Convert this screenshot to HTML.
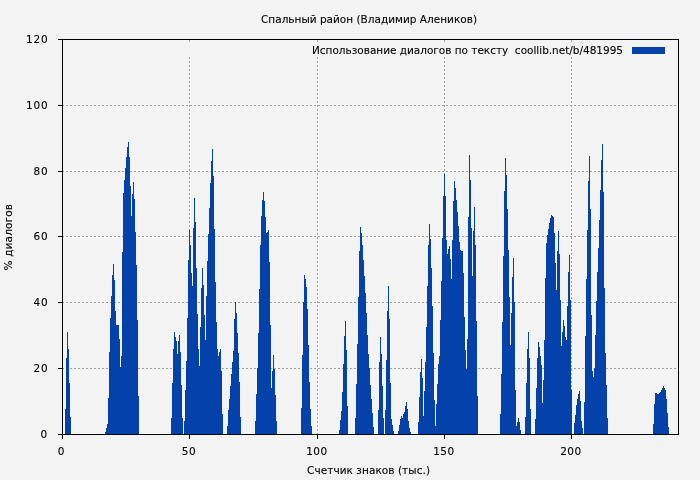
<!DOCTYPE html>
<html><head><meta charset="utf-8">
<style>
html,body{margin:0;padding:0;background:#f3f3f3;}
svg{display:block;will-change:transform;}
text{font-family:"DejaVu Sans","Liberation Sans",sans-serif;font-size:10.5px;fill:#000;stroke:#000;stroke-width:0.1px;}
</style></head>
<body>
<svg width="700" height="480" viewBox="0 0 700 480" shape-rendering="crispEdges">
<rect x="0" y="0" width="700" height="480" fill="#f3f3f3"/>
<!-- grid -->
<g stroke="#a0a0a0" stroke-width="1" stroke-dasharray="2 2">
<path d="M62 105.5H678M62 171.5H678M62 236.5H678M62 302.5H678M62 368.5H678"/>
<path d="M189.5 57V434M317.5 57V434M444.5 57V434M571.5 57V434"/>
<path d="M189.5 40V42M317.5 40V42M444.5 40V42M571.5 40V42" stroke-dasharray="none"/>
</g>
<g id="bars" fill="#0541ab" stroke="none">
<path d="M65 434V409H66V358H67V332H68V349H69V383H70V417H71V434ZM105 434V432H106V428H107V424H108V398H109V352H110V318H111V296H112V275H113V264H114V280H115V311H116V325H117V325H118V325H119V339H120V367H121V356H122V252H123V193H124V180H125V168H126V157H127V147H128V142H129V157H130V186H131V216H132V194H133V182H134V199H135V232H136V265H137V320H138V396H139V434ZM171 434V418H172V383H173V349H174V332H175V337H176V341H177V354H178V341H179V335H180V352H181V385H182V418H183V434ZM184 434V421H185V390H186V361H187V318H188V260H189V230H190V245H191V273H192V286H193V228H194V198H195V222H196V268H197V314H198V349H199V366H200V327H201V288H202V268H203V285H204V315H205V340H206V296H207V261H208V234H209V208H210V183H211V161H212V149H213V176H214V229H215V282H216V322H217V349H218V356H219V352H220V349H221V371H222V414H223V434ZM227 434V426H228V410H229V399H230V386H231V374H232V362H233V351H234V319H235V302H236V313H237V333H238V353H239V382H240V417H241V434ZM255 434V421H256V394H257V368H258V333H259V289H260V245H261V216H262V200H263V192H264V201H265V217H266V233H267V232H268V230H269V262H270V325H271V388H272V371H273V355H274V369H275V395H276V421H277V434ZM301 434V408H302V355H303V302H304V275H305V279H306V287H307V309H308V345H309V382H310V409H311V426H312V434ZM339 434V430H340V420H341V411H342V392H343V364H344V336H345V321H346V350H347V406H348V434ZM355 434V418H356V384H357V344H358V297H359V251H360V227H361V233H362V245H363V260H364V276H365V293H366V313H367V335H368V354H369V368H370V385H371V399H372V413H373V427H374V434ZM378 434V410H379V362H380V337H381V354H382V386H383V418H384V434ZM385 434V410H386V360H387V311H388V286H389V319H390V383H391V419H392V425H393V431H394V434ZM398 434V431H399V425H400V419H401V416H402V418H403V414H404V412H405V406H406V402H407V409H408V421H409V428H410V432H411V434ZM418 434V422H419V397H420V372H421V359H422V378H423V416H424V391H425V362H426V327H427V286H428V245H429V224H430V239H431V268H432V306H433V353H434V400H435V426H436V404H437V384H438V364H439V356H440V320H441V281H442V238H443V196H444V174H445V196H446V240H447V254H448V249H449V246H450V259H451V279H452V240H453V201H454V181H455V188H456V200H457V212H458V226H459V242H460V250H461V251H462V251H463V273H464V317H465V350H466V369H467V339H468V217H469V155H470V180H471V228H472V276H473V231H474V207H475V245H476V321H477V396H478V434ZM500 434V414H501V374H502V322H503V256H504V191H505V158H506V175H507V209H508V250H509V297H510V345H511V313H512V277H513V258H514V302H515V390H516V426H517V422H518V418H519V422H520V430H521V434ZM525 434V417H526V383H527V349H528V332H529V358H530V409H531V434ZM535 434V419H536V388H537V358H538V342H539V347H540V356H541V365H542V403H543V380H544V340H545V278H546V243H547V235H548V229H549V223H550V218H551V215H552V216H553V217H554V233H555V263H556V290H557V251H558V231H559V254H560V300H561V346H562V332H563V320H564V326H565V337H566V340H567V306H568V272H569V255H570V300H571V390H572V434ZM574 434V423H575V415H576V405H577V399H578V394H579V391H580V401H581V421H582V428H583V434ZM584 434V402H585V336H586V279H587V230H588V181H589V156H590V209H591V315H592V371H593V377H594V368H595V335H596V301H597V272H598V248H599V220H600V190H601V160H602V144H603V192H604V288H605V353H606V385H607V418H608V434ZM653 434V424H654V404H655V393H656V393H657V394H658V394H659V393H660V392H661V390H662V388H663V386H664V388H665V390H666V399H667V413H668V427H669V434Z"/>
</g>
<!-- axes -->
<g stroke="#000" stroke-width="1" fill="none">
<path d="M62.5 39.5H678.5V434.5H62.5Z"/>
<path d="M58 434.5H62M58 368.5H62M58 302.5H62M58 236.5H62M58 171.5H62M58 105.5H62M58 39.5H62"/>
<path d="M62.5 435V439M189.5 435V439M317.5 435V439M444.5 435V439M571.5 435V439"/>
</g>
<g text-anchor="end" letter-spacing="0.85">
<text x="48" y="438">0</text>
<text x="48.5" y="372">20</text>
<text x="48.5" y="306">40</text>
<text x="48.5" y="240">60</text>
<text x="48.5" y="175">80</text>
<text x="48.5" y="109">100</text>
<text x="48.5" y="43">120</text>
</g>
<g text-anchor="middle">
<text x="61.3" y="455" letter-spacing="0.5">0</text>
<text x="188.9" y="455" letter-spacing="0.5">50</text>
<text x="316.9" y="455" letter-spacing="0.5">100</text>
<text x="443.9" y="455" letter-spacing="0.5">150</text>
<text x="570.9" y="455" letter-spacing="0.5">200</text>
<text x="369" y="23" textLength="216" lengthAdjust="spacing">Спальный район (Владимир Алеников)</text>
<text x="368.5" y="474" textLength="123" lengthAdjust="spacing">Счетчик знаков (тыс.)</text>
<text transform="translate(12 237.2) rotate(-90)" textLength="66.5" lengthAdjust="spacing">% диалогов</text>
</g>
<text x="312" y="54" textLength="311" lengthAdjust="spacing" xml:space="preserve">Использование диалогов по тексту  coollib.net/b/481995</text>
<rect x="632" y="47" width="33" height="7" fill="#0541ab"/>
</svg>
</body></html>
